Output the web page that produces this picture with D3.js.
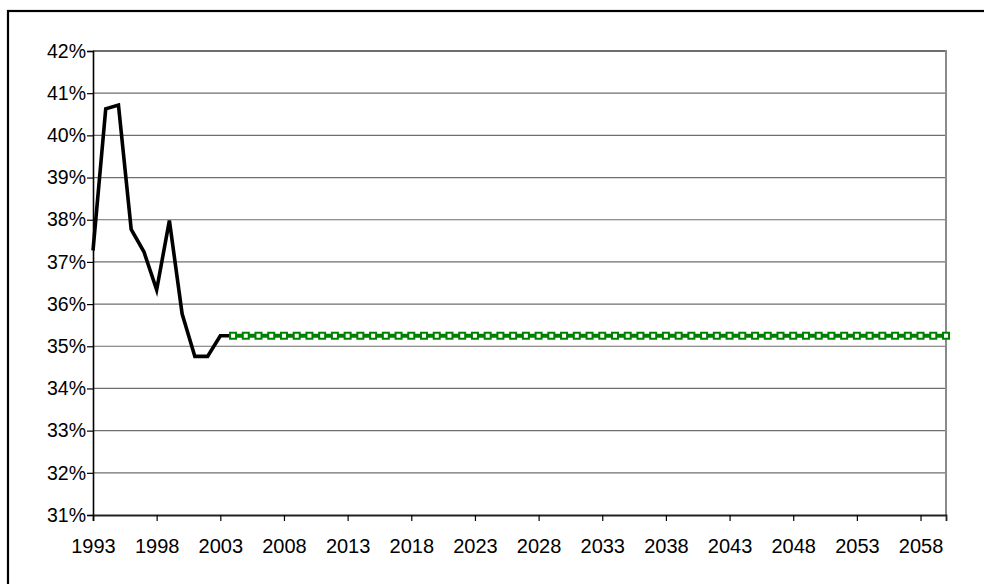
<!DOCTYPE html>
<html lang="en">
<head>
    <meta charset="UTF-8">
    <title>Share chart</title>
    <script src="https://d3js.org/d3.v7.min.js"></script>
    <style>
        body { margin: 0; background: #fff; overflow: hidden; }
        svg { display: block; font-family: "Liberation Sans", Arial, sans-serif; }
    </style>
</head>
<body>
    <svg id="chart"></svg>

    <script>
        // categories (years on the x axis)
        const firstYear = 1993;
        const lastYear = 2060;
        const years = d3.range(firstYear, lastYear + 1);

        // historical values, % (black line)
        const histYears = [1993, 1994, 1995, 1996, 1997, 1998, 1999, 2000, 2001, 2002, 2003, 2004];
        const histValues = [37.27, 40.63, 40.72, 37.77, 37.24, 36.34, 37.98, 35.77, 34.76, 34.76, 35.25, 35.25];

        // projection, % (green line with square markers), 2004 - 2060
        const projYears = d3.range(2004, 2061);
        const projValues = [
            35.25, 35.25, 35.25, 35.25, 35.25, 35.25, 35.25, 35.25, 35.25, 35.25,
            35.25, 35.25, 35.25, 35.25, 35.25, 35.25, 35.25, 35.25, 35.25, 35.25,
            35.25, 35.25, 35.25, 35.25, 35.25, 35.25, 35.25, 35.25, 35.25, 35.25,
            35.25, 35.25, 35.25, 35.25, 35.25, 35.25, 35.25, 35.25, 35.25, 35.25,
            35.25, 35.25, 35.25, 35.25, 35.25, 35.25, 35.25, 35.25, 35.25, 35.25,
            35.25, 35.25, 35.25, 35.25, 35.25, 35.25, 35.25
        ];

        // tick labels
        const xTickYears = [1993, 1998, 2003, 2008, 2013, 2018, 2023, 2028, 2033, 2038, 2043, 2048, 2053, 2058];
        const yTicks = [31, 32, 33, 34, 35, 36, 37, 38, 39, 40, 41, 42];

        const W = 984, H = 584;
        const plot = { left: 93, right: 946, top: 51, bottom: 515 };

        const svg = d3.select('#chart')
            .attr('width', W)
            .attr('height', H);

        // outer frame (right and bottom edges run off the page)
        svg.append('rect')
            .attr('x', 8).attr('y', 11)
            .attr('width', 1000).attr('height', 620)
            .attr('fill', 'none')
            .attr('stroke', '#000')
            .attr('stroke-width', 2.2);

        const x = d3.scalePoint().domain(years).range([plot.left, plot.right]);
        const y = d3.scaleLinear().domain([31, 42]).range([plot.bottom, plot.top]);

        // gridlines
        svg.append('g')
            .selectAll('line')
            .data(yTicks.filter(d => d > 31))
            .enter().append('line')
            .attr('x1', plot.left).attr('x2', plot.right)
            .attr('y1', d => y(d)).attr('y2', d => y(d))
            .attr('stroke', '#6e6e6e')
            .attr('stroke-width', d => d === 42 ? 2 : 1.2);

        // right plot border
        svg.append('line')
            .attr('x1', plot.right).attr('x2', plot.right)
            .attr('y1', plot.top - 1).attr('y2', plot.bottom)
            .attr('stroke', '#8a8a8a')
            .attr('stroke-width', 2);

        // y axis
        const yAxis = svg.append('g')
            .attr('transform', `translate(${plot.left},0)`)
            .call(d3.axisLeft(y).tickValues(yTicks).tickSize(6).tickPadding(1).tickFormat(d => d + '%'));
        yAxis.select('.domain').attr('stroke', '#000').attr('stroke-width', 1.6);
        yAxis.selectAll('.tick line').attr('stroke', '#000').attr('stroke-width', 1.2);
        yAxis.selectAll('text').style('font-size', '19.5px').attr('fill', '#000');

        // x axis
        const xAxis = svg.append('g')
            .attr('transform', `translate(0,${plot.bottom})`)
            .call(d3.axisBottom(x).tickValues(xTickYears).tickSize(6).tickPadding(18));
        xAxis.select('.domain').attr('stroke', '#222').attr('stroke-width', 1.8);
        xAxis.selectAll('.tick line').attr('stroke', '#000').attr('stroke-width', 1.2);
        xAxis.selectAll('text').style('font-size', '20px').attr('fill', '#000');

        const line = d3.line()
            .x(d => x(d.year))
            .y(d => y(d.value));

        const hist = histYears.map((yr, i) => ({ year: yr, value: histValues[i] }));
        const proj = projYears.map((yr, i) => ({ year: yr, value: projValues[i] }));

        svg.append('path')
            .datum(hist)
            .attr('d', line)
            .attr('fill', 'none')
            .attr('stroke', '#000')
            .attr('stroke-width', 3.6);

        svg.append('path')
            .datum(proj)
            .attr('d', line)
            .attr('fill', 'none')
            .attr('stroke', '#008000')
            .attr('stroke-width', 4);

        svg.append('g')
            .selectAll('rect')
            .data(proj)
            .enter().append('rect')
            .attr('x', d => x(d.year) - 3)
            .attr('y', d => y(d.value) - 3)
            .attr('width', 6).attr('height', 6)
            .attr('fill', '#fff')
            .attr('stroke', '#008000')
            .attr('stroke-width', 2);
    </script>
</body>
</html>
